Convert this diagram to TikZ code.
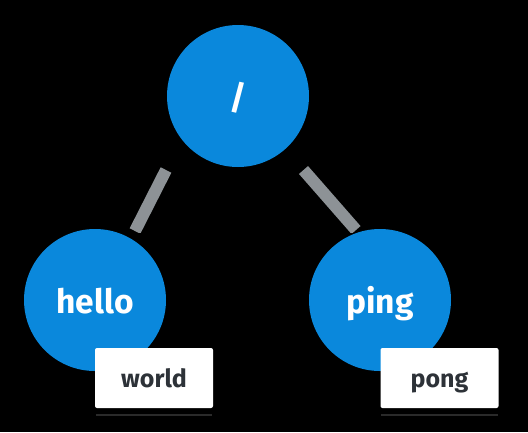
\documentclass[tikz,border=0pt]{standalone}
\usepackage{fontspec}
\setmainfont{Fira Sans}
\definecolor{nodeblue}{HTML}{0A88DC}
\definecolor{edgegray}{HTML}{8D9296}
\definecolor{labeltext}{HTML}{2D3238}
\definecolor{shadowgray}{HTML}{2A2A2A}
\tikzset{
  treenode/.style={circle, fill=nodeblue, minimum size=142pt, inner sep=0pt,
    text=white, font=\fontsize{33.5}{40}\selectfont\bfseries,
    text height=26pt, text depth=0pt},
  valbox/.style={rectangle, rounded corners=2pt, fill=white, minimum width=118pt,
    minimum height=60pt, inner sep=0pt, text=labeltext,
    font=\fontsize{25}{30}\selectfont\bfseries, text height=18pt, text depth=0pt},
  treeedge/.style={draw=edgegray, line width=12pt},
  boxshadow/.style={draw=shadowgray, line width=2pt}
}
\begin{document}
\begin{tikzpicture}[x=1pt, y=-1pt]
\fill[black] (0,0) rectangle (528,432);
\useasboundingbox (0,0) rectangle (528,432);
% edge end points
\coordinate (l1) at (166,162);
\coordinate (l2) at (135,231);
\coordinate (r1) at (309,162);
\coordinate (r2) at (356,230);
\begin{scope}
\clip (0,161) rectangle (528,232);
\draw[treeedge] ([yshift=-8pt]l1) -- (l2);
\draw[treeedge] ([yshift=-8pt,xshift=-5.5pt]r1) -- (r2);
\end{scope}
% nodes
\node[treenode] (root) at (238,96) {/};
\node[treenode] (hello) at (95,300) {hello};
\node[treenode] (ping) at (380,300) {ping};
% shadows
\draw[boxshadow] (96,415) -- (212,415);
\draw[boxshadow] (381,415) -- (498,415);
\node[valbox] (world) at (154,378) {world};
\node[valbox] (pong) at (439.5,378) {pong};
\end{tikzpicture}
\end{document}
